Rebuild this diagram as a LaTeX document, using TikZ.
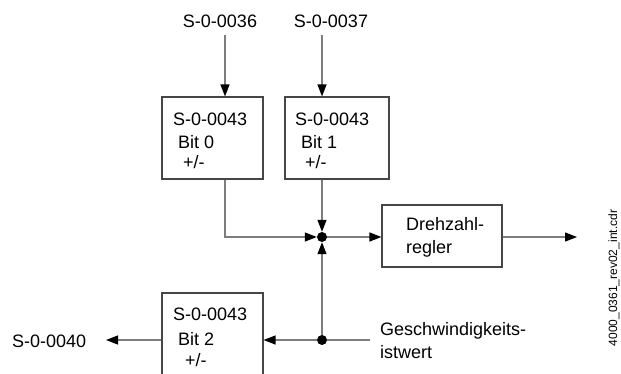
\documentclass[tikz,border=0pt]{standalone}
\usepackage{fontspec}
\setmainfont{Liberation Sans}
\usetikzlibrary{arrows.meta}
\definecolor{linegray}{RGB}{125,125,125}
\definecolor{boxgray}{RGB}{70,70,70}
\begin{document}
\begin{tikzpicture}[x=1pt,y=-1pt,
  lbl/.style={inner sep=0pt,font=\fontsize{18}{23}\selectfont,text=black},
  blk/.style={draw=boxgray,line width=1.1pt,inner sep=0pt},
  conn/.style={draw=linegray,line width=1.2pt,-{Triangle[length=12pt,width=9pt,color=black]}},
  wire/.style={draw=linegray,line width=1.2pt},
  dot/.style={circle,fill=black,inner sep=0pt,minimum size=10pt}]
\useasboundingbox (0,0) rectangle (621,373);
\clip (0,0) rectangle (621,373);

% parameter blocks
\node[blk,minimum width=101pt,minimum height=82pt] (b1) at (212.5,138) {};
\node[blk,minimum width=104pt,minimum height=82pt] (b2) at (337,138) {};
\node[blk,minimum width=101pt,minimum height=100pt] (b3) at (212.5,343) {};
\node[blk,minimum width=120pt,minimum height=62pt] (reg) at (442,236) {};

% block texts
\node[lbl,anchor=base west] (b1a) at (173,125) {S-0-0043};
\node[lbl,anchor=base west] (b1b) at (178,148) {Bit 0};
\node[lbl,anchor=base west] (b1c) at (183,168) {+/-};
\node[lbl,anchor=base west] (b2a) at (295,125) {S-0-0043};
\node[lbl,anchor=base west] (b2b) at (301,148) {Bit 1};
\node[lbl,anchor=base west] (b2c) at (305,168) {+/-};
\node[lbl,anchor=base west] (b3a) at (173,320) {S-0-0043};
\node[lbl,anchor=base west] (b3b) at (178,345) {Bit 2};
\node[lbl,anchor=base west] (b3c) at (185,366) {+/-};
\node[lbl,anchor=base west] (rga) at (406,230) {Drehzahl-};
\node[lbl,anchor=base west] (rgb) at (406,253) {regler};

% free labels
\node[lbl,anchor=base] (t36) at (220,27) {S-0-0036};
\node[lbl,anchor=base] (t37) at (331,27) {S-0-0037};
\node[lbl,anchor=base west] (t40) at (12,347) {S-0-0040};
\node[lbl,anchor=base west] (gw1) at (380,335) {Geschwindigkeits-};
\node[lbl,anchor=base west] (gw2) at (380,358) {istwert};
\node[inner sep=0pt,font=\fontsize{12}{14}\selectfont,rotate=90] (fn) at (614,278) {4000\_0361\_rev02\_int.cdr};

% junctions
\node[dot] (j) at (322,237) {};
\node[dot] (k) at (322,340) {};

% connector end points
\coordinate (c36) at (225,35);
\coordinate (c37) at (322,35);
\coordinate (out) at (577,237);
\coordinate (gs) at (370,340);
\coordinate (s40) at (106,340);

% connectors
\draw[conn] (c36) -- (c36 |- b1.north);
\draw[conn] (c37) -- (c37 |- b2.north);
\draw[conn] (c36 |- b1.south) |- (j.west);
\draw[conn] (j |- b2.south) -- (j.north);
\draw[conn] (j.east) -- (j -| reg.west);
\draw[conn] (reg.east |- j) -- (out);
\draw[conn] (k.north) -- (j.south);
\draw[wire] (gs) -- (k.east);
\draw[conn] (k.west) -- (k -| b3.east);
\draw[conn] (k -| b3.west) -- (s40);
\end{tikzpicture}
\end{document}
